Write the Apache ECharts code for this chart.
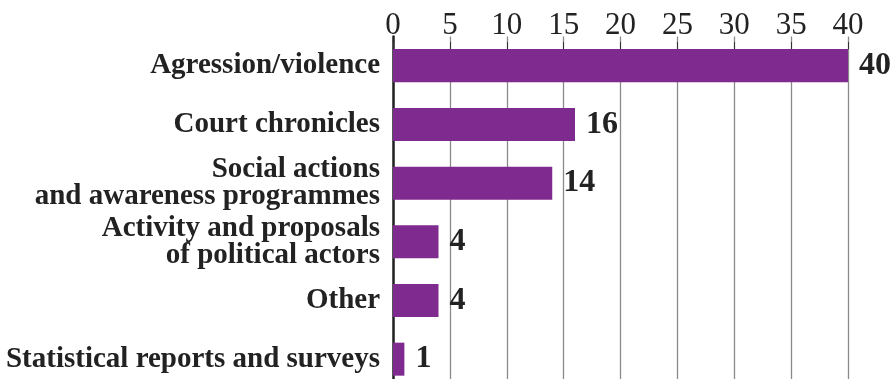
<!DOCTYPE html>
<html><head><meta charset="utf-8">
<script src="https://cdn.jsdelivr.net/npm/echarts@6/dist/echarts.min.js"></script>
<style>html,body{margin:0;padding:0;background:#fff}#c{width:895px;height:379px}</style>
</head><body><div id="c"></div>
<script>
var categories = ["Agression/violence","Court chronicles","Social actions\nand awareness programmes","Activity and proposals\nof political actors","Other","Statistical reports and surveys"];
var values = [40,16,14,4,4,1];
var xTicks = {min:0,max:40,interval:5};

var chart = echarts.init(document.getElementById('c'));
chart.setOption({
  animation:false,
  grid:{left:393,right:47,top:36.5,height:352,containLabel:false,outerBoundsMode:'none'},
  xAxis:{type:'value',position:'top',min:xTicks.min,max:xTicks.max,interval:xTicks.interval,offset:-12.5,
    axisLine:{show:true,lineStyle:{color:'#7b2a8e',width:1}},
    axisTick:{show:true,length:7,inside:false,lineStyle:{color:'#333',width:1}},
    axisLabel:{margin:8,fontFamily:'Liberation Serif',fontSize:31,color:'#222'},
    splitLine:{show:true,lineStyle:{color:'#8a8a8a',width:1.3}}},
  yAxis:{type:'category',inverse:true,data:categories,
    axisLine:{show:true,lineStyle:{color:'#222',width:2.5}},
    axisTick:{show:false},
    axisLabel:{margin:13,fontFamily:'Liberation Serif',fontWeight:'bold',fontSize:29,lineHeight:27,color:'#222',align:'right'}},
  series:[{type:'bar',data:values,barWidth:33,itemStyle:{color:'#7f2a8f'},
    label:{show:true,position:'right',distance:11,fontFamily:'Liberation Serif',fontWeight:'bold',fontSize:32,color:'#222'}}]
});
</script></body></html>
